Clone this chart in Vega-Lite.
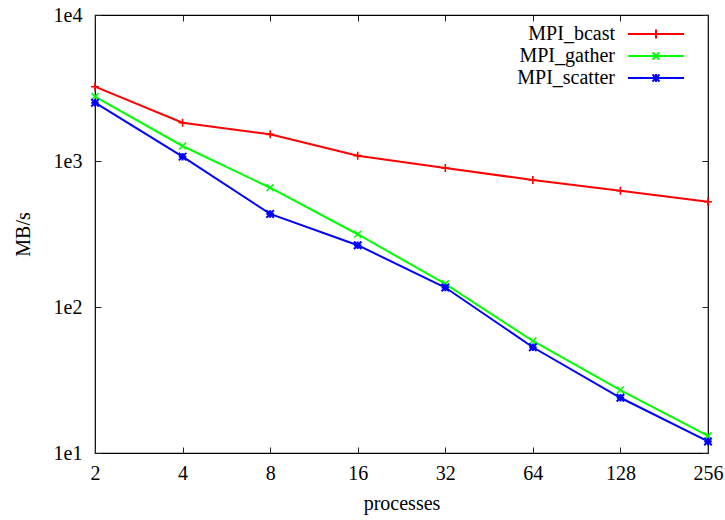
{
  "$schema": "https://vega.github.io/schema/vega-lite/v6.json",
  "width": 613,
  "height": 438,
  "autosize": {"type": "none"},
  "padding": {"left": 95, "top": 15, "right": 17, "bottom": 67},
  "background": "white",
  "config": {
    "font": "'Liberation Serif', 'DejaVu Serif', serif",
    "view": {"stroke": "#000", "strokeWidth": 1.2},
    "axis": {
      "labelFont": "'Liberation Serif', 'DejaVu Serif', serif",
      "labelFontSize": 20,
      "labelColor": "#000",
      "titleFont": "'Liberation Serif', 'DejaVu Serif', serif",
      "titleFontSize": 20,
      "titleFontWeight": "normal",
      "titleColor": "#000",
      "grid": false,
      "domain": false,
      "tickColor": "#222",
      "tickWidth": 1,
      "tickSize": -6
    },
    "legend": {
      "labelFont": "'Liberation Serif', 'DejaVu Serif', serif",
      "labelFontSize": 20,
      "labelColor": "#000"
    }
  },
  "data": {
    "values": [
      {"processes": 2, "series": "MPI_bcast", "mbps": 3228},
      {"processes": 4, "series": "MPI_bcast", "mbps": 1830},
      {"processes": 8, "series": "MPI_bcast", "mbps": 1523},
      {"processes": 16, "series": "MPI_bcast", "mbps": 1088},
      {"processes": 32, "series": "MPI_bcast", "mbps": 895},
      {"processes": 64, "series": "MPI_bcast", "mbps": 741},
      {"processes": 128, "series": "MPI_bcast", "mbps": 626},
      {"processes": 256, "series": "MPI_bcast", "mbps": 526},
      {"processes": 2, "series": "MPI_gather", "mbps": 2758},
      {"processes": 4, "series": "MPI_gather", "mbps": 1267},
      {"processes": 8, "series": "MPI_gather", "mbps": 656},
      {"processes": 16, "series": "MPI_gather", "mbps": 315},
      {"processes": 32, "series": "MPI_gather", "mbps": 144},
      {"processes": 64, "series": "MPI_gather", "mbps": 58.5},
      {"processes": 128, "series": "MPI_gather", "mbps": 27.0},
      {"processes": 256, "series": "MPI_gather", "mbps": 13.1},
      {"processes": 2, "series": "MPI_scatter", "mbps": 2508},
      {"processes": 4, "series": "MPI_scatter", "mbps": 1071},
      {"processes": 8, "series": "MPI_scatter", "mbps": 434},
      {"processes": 16, "series": "MPI_scatter", "mbps": 265},
      {"processes": 32, "series": "MPI_scatter", "mbps": 136},
      {"processes": 64, "series": "MPI_scatter", "mbps": 53},
      {"processes": 128, "series": "MPI_scatter", "mbps": 23.9},
      {"processes": 256, "series": "MPI_scatter", "mbps": 12.0}
    ]
  },
  "layer": [
    {
      "mark": {"type": "line", "strokeWidth": 2, "clip": false},
      "encoding": {
        "x": {
          "field": "processes", "type": "quantitative",
          "scale": {"type": "log", "base": 2, "domain": [2, 256], "nice": false},
          "axis": {"orient": "bottom", "values": [2, 4, 8, 16, 32, 64, 128, 256], "format": "d", "labelPadding": 16, "title": "processes", "titlePadding": 10, "labelFlush": false}
        },
        "y": {
          "field": "mbps", "type": "quantitative",
          "scale": {"type": "log", "domain": [10, 10000], "nice": false},
          "axis": {"orient": "left", "values": [10, 100, 1000, 10000], "labelExpr": "'1e' + round(log(datum.value)/LN10)", "labelPadding": 19, "title": "MB/s", "titlePadding": 20, "labelFlush": false}
        },
        "color": {
          "field": "series", "type": "nominal",
          "scale": {"domain": ["MPI_bcast", "MPI_gather", "MPI_scatter"], "range": ["#ff0000", "#00ff00", "#0000ff"]},
          "legend": {
            "title": null,
            "orient": "none",
            "legendX": 550,
            "legendY": 8,
            "symbolType": "M-2.8,0L2.8,0",
            "symbolSize": 400,
            "symbolStrokeWidth": 2,
            "symbolFillColor": "transparent",
            "labelAlign": "right",
            "labelOffset": -52,
            "rowPadding": 1,
            "padding": 0,
            "encode": {
              "symbols": {
                "update": {
                  "shape": {"signal": "datum.value == 'MPI_bcast' ? 'M-2.8,0L2.8,0M0,-0.45L0,0.45' : datum.value == 'MPI_gather' ? 'M-2.8,0L2.8,0M-0.35,-0.35L0.35,0.35M-0.35,0.35L0.35,-0.35' : 'M-2.8,0L2.8,0M0,-0.4L0,0.4M-0.35,-0.35L0.35,0.35M-0.35,0.35L0.35,-0.35'"},
                  "fill": {"value": "transparent"}
                }
              }
            }
          }
        }
      }
    },
    {
      "transform": [{"filter": "datum.series == 'MPI_bcast'"}],
      "mark": {"type": "point", "shape": "M-1,0L1,0M0,-1L0,1", "filled": false, "strokeWidth": 1.6, "size": 64, "opacity": 1, "clip": false},
      "encoding": {
        "x": {
          "field": "processes", "type": "quantitative",
          "axis": {"orient": "top", "values": [2, 4, 8, 16, 32, 64, 128, 256], "labels": false, "title": null}
        },
        "y": {
          "field": "mbps", "type": "quantitative",
          "axis": {"orient": "right", "values": [10, 100, 1000, 10000], "labels": false, "title": null}
        },
        "color": {"field": "series", "type": "nominal"}
      }
    },
    {
      "transform": [{"filter": "datum.series == 'MPI_gather'"}],
      "mark": {"type": "point", "shape": "M-1,-1L1,1M-1,1L1,-1", "filled": false, "strokeWidth": 1.6, "size": 49, "opacity": 1, "clip": false},
      "encoding": {
        "x": {"field": "processes", "type": "quantitative", "axis": null},
        "y": {"field": "mbps", "type": "quantitative", "axis": null},
        "color": {"field": "series", "type": "nominal"}
      }
    },
    {
      "transform": [{"filter": "datum.series == 'MPI_scatter'"}],
      "mark": {"type": "point", "shape": "M-1,0L1,0M0,-1L0,1M-1,-1L1,1M-1,1L1,-1", "filled": false, "strokeWidth": 2, "size": 56, "opacity": 1, "clip": false},
      "encoding": {
        "x": {"field": "processes", "type": "quantitative", "axis": null},
        "y": {"field": "mbps", "type": "quantitative", "axis": null},
        "color": {"field": "series", "type": "nominal"}
      }
    }
  ],
  "resolve": {"axis": {"x": "independent", "y": "independent"}}
}
